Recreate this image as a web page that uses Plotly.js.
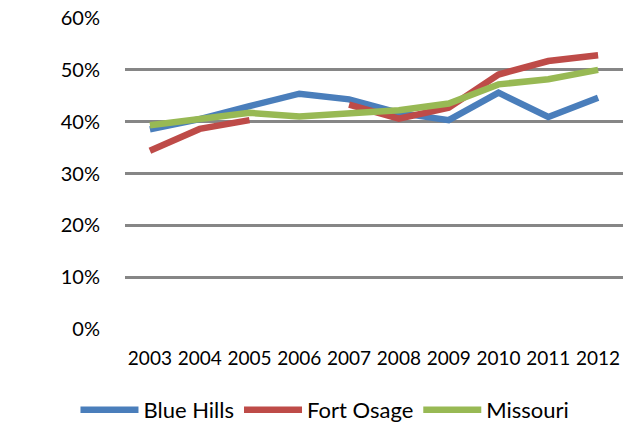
<!DOCTYPE html>
<html><head><meta charset="utf-8">
<script src="https://cdn.plot.ly/plotly-3.0.1.min.js"></script>
<style>body{margin:0;background:#fff}#c{width:629px;height:427px}</style>
</head><body><div id="c"></div>
<script>
const years = ['2003','2004','2005','2006','2007','2008','2009','2010','2011','2012'];
const blueHills = [38.5, 40.5, 43.0, 45.4, 44.3, 41.7, 40.3, 45.6, 40.9, 44.6];
const fortOsage = [34.4, 38.6, 40.3, null, 43.3, 40.6, 42.7, 49.1, 51.7, 52.8];
const missouri  = [39.3, 40.4, 41.7, 41.0, 41.7, 42.2, 43.5, 47.2, 48.2, 50.0];
const yTicks = [0, 10, 20, 30, 40, 50, 60];
const yTickText = yTicks.map(v => v + '%');

const font = "Lato, 'Open Sans', sans-serif";
const mk = (name, y, color) => ({
  x: years, y: y, name: name, type: 'scatter', mode: 'lines',
  connectgaps: false,
  line: {color: color, width: 6.5}
});
const data = [
  mk('Blue Hills', blueHills, '#4a7ebb'),
  mk('Fort Osage', fortOsage, '#be4b48'),
  mk('Missouri', missouri, '#98b954')
];
const layout = {
  width: 629, height: 427,
  margin: {l: 125, r: 6, t: 18, b: 98, autoexpand: false},
  paper_bgcolor: '#fff', plot_bgcolor: '#fff',
  font: {family: font, color: '#000'},
  showlegend: true,
  legend: {orientation: 'h', xref: 'container', yref: 'container',
           x: 0.12, xanchor: 'left', y: 0.04, yanchor: 'middle',
           font: {size: 22, family: font}, itemwidth: 58, tracegroupgap: 0},
  xaxis: {type: 'category', range: [-0.5, 9.5], showgrid: false, zeroline: false, showline: false,
          ticks: '', tickfont: {size: 19, family: font}, ticklabelstandoff: 16, fixedrange: true},
  yaxis: {range: [0, 60], tickvals: yTicks, ticktext: yTickText,
          showgrid: true, gridcolor: '#868686', gridwidth: 3, zeroline: false,
          showline: false, ticks: '', ticklen: 0, tickfont: {size: 20, family: font},
          ticklabelstandoff: 24, fixedrange: true}
};
Plotly.newPlot('c', data, layout, {displayModeBar: false, staticPlot: true});
</script></body></html>
